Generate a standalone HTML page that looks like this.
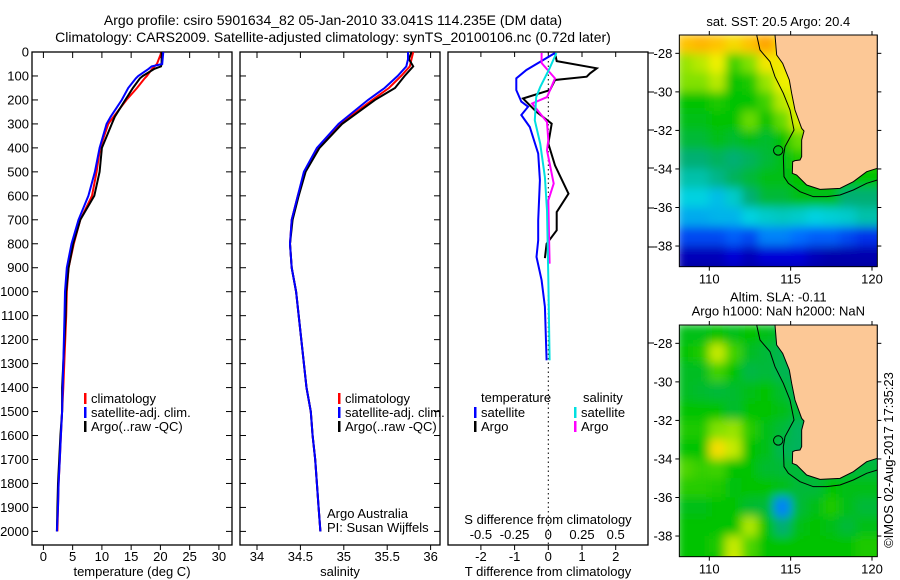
<!DOCTYPE html>
<html><head><meta charset="utf-8"><style>
html,body{margin:0;padding:0;background:#fff}
svg{display:block;font-family:"Liberation Sans",sans-serif}
</style></head><body>
<svg id="fig" width="900" height="580" viewBox="0 0 900 580" xmlns="http://www.w3.org/2000/svg">
<defs>
<filter id="blurf" x="0" y="0" width="1" height="1" filterUnits="objectBoundingBox"><feGaussianBlur stdDeviation="14" edgeMode="duplicate"/></filter>
</defs>
<text x="333" y="25" font-size="14" text-anchor="middle">Argo profile: csiro 5901634_82 05-Jan-2010 33.041S 114.235E (DM data)</text>
<text x="333" y="42" font-size="14" text-anchor="middle">Climatology: CARS2009. Satellite-adjusted climatology: synTS_20100106.nc (0.72d later)</text>
<g id="p1"></g>
<g id="p2"></g>
<g id="p3"></g>
<g id="m1"></g>
<g id="m2"></g>
<text transform="translate(893,460) rotate(-90)" font-size="13" text-anchor="middle">©IMOS 02-Aug-2017 17:35:23</text>
</svg>
<script>
// ---- profile data ----
const depthT = [0,50,60,70,100,110,150,200,270,300,400,500,600,700,800,900,1000,1100,1400,1500,1600,1700,1800,1900,2000];
const tempArgo = [20.2,20.2,20.1,19.0,17.0,16.5,15.3,14.0,12.2,11.7,10.0,9.6,8.7,6.3,5.1,4.3,3.9,3.8,3.2,3.2,2.9,2.7,2.5,2.4,2.3];
const tempClim = [20.2,19.4,19.0,18.6,17.7,17.3,16.0,14.2,12.0,11.1,9.7,9.1,8.3,6.3,5.2,4.3,4.0,3.9,3.4,3.2,3.0,2.8,2.6,2.5,2.4];
const tempSat  = [20.5,20.3,18.5,18.0,16.2,15.8,14.5,13.4,11.5,10.8,9.6,8.8,7.7,6.0,4.8,4.0,3.7,3.6,3.3,3.2,3.0,2.8,2.6,2.5,2.3];
const depthS = [0,30,60,100,150,200,300,400,500,600,700,800,900,1000,1400,1500,1600,1700,1800,1900,2000];
const salArgo = [35.78,35.75,35.80,35.70,35.59,35.36,34.98,34.72,34.56,34.48,34.41,34.38,34.40,34.45,34.57,34.62,34.64,34.67,34.69,34.71,34.73];
const salClim = [35.80,35.78,35.76,35.66,35.52,35.33,34.96,34.70,34.55,34.47,34.40,34.38,34.40,34.45,34.57,34.62,34.64,34.67,34.69,34.71,34.73];
const salSat  = [35.74,35.74,35.72,35.62,35.47,35.28,34.94,34.69,34.54,34.47,34.40,34.38,34.40,34.45,34.57,34.62,34.64,34.67,34.69,34.71,34.73];
const dArgoT = [4,38,68,89,103,117,159,194,250,299,382,473,591,668,744,800,860];
const vArgoT = [0.2,0.25,1.44,1.24,1.14,0.2,0.05,-0.75,-0.35,0.1,0,0.2,0.6,0.25,0.25,-0.05,-0.1];
const dSatT = [4,75,110,159,207,228,263,313,424,535,702,785,855,952,1063,1286];
const vSatT = [0.2,-0.65,-0.95,-0.95,-0.8,-0.6,-0.8,-0.55,-0.3,-0.25,-0.3,-0.3,-0.35,-0.2,-0.1,-0.05];
const dSatS = [4,68,146,188,285,382,522,661,939,1286];
const vSatS = [0.06,0.01,-0.06,-0.09,-0.1,-0.06,-0.025,-0.01,0,0.01];
const dArgoS = [4,46,110,188,215,292,368,410,549,619,883];
const vArgoS = [-0.05,-0.05,0.05,-0.01,-0.12,-0.01,0,-0.01,0.04,0,0.01];
const depthTicks = [0,100,200,300,400,500,600,700,800,900,1000,1100,1200,1300,1400,1500,1600,1700,1800,1900,2000];
const tempTicks = [0,5,10,15,20,25,30];
const salTicks = [34,34.5,35,35.5,36];
const salTickLabels = ["34","34.5","35","35.5","36"];
const tdTicks = [-2,-1,0,1,2];
const sdTicks = [-0.5,-0.25,0,0.25,0.5];
const sdTickLabels = ["-0.5","-0.25","0","0.25","0.5"];
// ---- map data (rows lat -27..-40, cols lon 108..120) ----
const mapLons = [108,109,110,111,112,113,114,115,116,117,118,119,120];
const mapLats = [-27,-28,-29,-30,-31,-32,-33,-34,-35,-36,-37,-38,-39];
const sstGrid = [
[.9,.92,.9,.85,.9,.95,.85,.8,.8,.8,.8,.8,.8],
[.72,.75,.8,.65,.7,.82,.82,.8,.8,.8,.8,.8,.8],
[.7,.7,.75,.6,.62,.72,.8,.8,.8,.8,.8,.8,.8],
[.6,.6,.62,.6,.6,.65,.75,.8,.8,.8,.8,.8,.8],
[.58,.58,.6,.6,.68,.6,.68,.78,.78,.78,.78,.78,.78],
[.55,.55,.58,.56,.58,.56,.6,.68,.68,.68,.68,.68,.68],
[.5,.5,.52,.5,.52,.55,.58,.62,.62,.62,.62,.62,.62],
[.45,.45,.48,.52,.55,.58,.58,.6,.6,.6,.6,.6,.6],
[.4,.4,.38,.42,.5,.55,.55,.58,.58,.58,.5,.5,.5],
[.36,.36,.37,.37,.4,.42,.43,.42,.4,.41,.42,.45,.45],
[.25,.25,.25,.28,.25,.32,.32,.3,.28,.28,.25,.22,.22],
[.1,.1,.1,.15,.1,.15,.15,.15,.1,.08,.08,.08,.08],
[.04,.04,.05,.08,.05,.06,.08,.08,.05,.04,.04,.04,.04]];
const slaGrid = [
[.58,.58,.6,.58,.6,.58,.55,.55,.55,.55,.55,.55,.55],
[.6,.62,.76,.65,.57,.55,.53,.52,.52,.52,.52,.52,.52],
[.57,.57,.65,.6,.54,.55,.53,.52,.52,.52,.52,.52,.52],
[.57,.56,.55,.56,.58,.6,.56,.52,.52,.52,.52,.52,.52],
[.6,.6,.6,.56,.6,.6,.58,.55,.55,.55,.55,.55,.55],
[.62,.62,.7,.72,.63,.58,.55,.52,.52,.52,.52,.52,.52],
[.6,.6,.84,.76,.6,.58,.53,.52,.52,.52,.52,.52,.52],
[.66,.64,.65,.6,.6,.56,.55,.55,.55,.55,.55,.55,.55],
[.63,.63,.62,.59,.6,.6,.58,.55,.55,.6,.58,.58,.58],
[.58,.58,.6,.6,.56,.55,.32,.55,.58,.62,.58,.55,.55],
[.6,.6,.6,.6,.74,.6,.5,.58,.6,.58,.55,.58,.58],
[.6,.6,.62,.76,.66,.6,.6,.6,.6,.6,.6,.62,.62],
[.6,.6,.6,.78,.65,.6,.6,.6,.6,.6,.6,.62,.62]];
const mapLonTicks = [110,115,120];
const mapLatTicks = [-28,-30,-32,-34,-36,-38];
const argoLon = 114.235, argoLat = -33.041;

const NS = "http://www.w3.org/2000/svg";
function mk(parent, tag, attrs, txt){const e=document.createElementNS(NS,tag);for(const k in attrs)e.setAttribute(k,attrs[k]);if(txt!==undefined)e.textContent=txt;parent.appendChild(e);return e;}
const yD = d => 52 + d*0.2397;
const TOP=52, BOT=545;

function panelFrame(g, x0, x1){
  const r = mk(g,'rect',{x:x0,y:TOP,width:x1-x0,height:BOT-TOP,fill:'none',stroke:'#000','stroke-width':1.3});
  
  
}
function profile(g, xs, ds, color, name, w){
  const pts = xs.map((v,i)=>v.toFixed(1)+','+yD(ds[i]).toFixed(1)).join(' ');
  const p = mk(g,'polyline',{points:pts,fill:'none',stroke:color,'stroke-width':w||2,'stroke-linejoin':'miter'});
  
  
}
function legend(g, x, y, color, label, name){
  const m = mk(g,'rect',{x:x,y:y-10,width:2.5,height:11,fill:color});
  
  
  const t = mk(g,'text',{x:x+7,y:y,'font-size':13},label);
  
  
}

// Panel 1: temperature
const p1 = document.getElementById('p1');
const xT = t => 43.4 + t*5.85;
panelFrame(p1,32,232);
depthTicks.forEach(d=>{
  const y=yD(d);
  mk(p1,'line',{x1:32,x2:38,y1:y,y2:y,stroke:'#000'});
  mk(p1,'line',{x1:226,x2:232,y1:y,y2:y,stroke:'#000'});
  const t=mk(p1,'text',{x:29,y:y+4.5,'font-size':13,'text-anchor':'end'},String(d));
  
  
});
tempTicks.forEach(v=>{
  const x=xT(v);
  mk(p1,'line',{x1:x,x2:x,y1:TOP,y2:TOP+6,stroke:'#000'});
  mk(p1,'line',{x1:x,x2:x,y1:BOT,y2:BOT+5,stroke:'#000'});
  const t=mk(p1,'text',{x:x,y:561,'font-size':13,'text-anchor':'middle'},String(v));
  
  
});
profile(p1, tempClim.map(xT), depthT, '#ff0000','temp-climatology-line');
profile(p1, tempArgo.map(xT), depthT, '#000000','temp-argo-line');
profile(p1, tempSat.map(xT), depthT, '#0000ff','temp-satellite-line');
legend(p1,84,403,'#ff0000','climatology','temp-legend-climatology');
legend(p1,84,417,'#0000ff','satellite-adj. clim.','temp-legend-satellite');
legend(p1,84,431,'#000000','Argo(..raw -QC)','temp-legend-argo');
{const t=mk(p1,'text',{x:132,y:576,'font-size':13,'text-anchor':'middle'},'temperature (deg C)');
}

// Panel 2: salinity
const p2 = document.getElementById('p2');
const xS = s => 257 + (s-34)*86.8;
panelFrame(p2,240,440);
depthTicks.forEach(d=>{const y=yD(d);
  mk(p2,'line',{x1:240,x2:246,y1:y,y2:y,stroke:'#000'});
  mk(p2,'line',{x1:434,x2:440,y1:y,y2:y,stroke:'#000'});});
salTicks.forEach((v,i)=>{const x=xS(v);
  mk(p2,'line',{x1:x,x2:x,y1:TOP,y2:TOP+6,stroke:'#000'});
  mk(p2,'line',{x1:x,x2:x,y1:BOT,y2:BOT+5,stroke:'#000'});
  const t=mk(p2,'text',{x:x,y:561,'font-size':13,'text-anchor':'middle'},salTickLabels[i]);
  });
profile(p2, salClim.map(xS), depthS, '#ff0000','sal-climatology-line');
profile(p2, salArgo.map(xS), depthS, '#000000','sal-argo-line');
profile(p2, salSat.map(xS), depthS, '#0000ff','sal-satellite-line');
legend(p2,338,403,'#ff0000','climatology','sal-legend-climatology');
legend(p2,338,417,'#0000ff','satellite-adj. clim.','sal-legend-satellite');
legend(p2,338,431,'#000000','Argo(..raw -QC)','sal-legend-argo');
{const a=mk(p2,'text',{x:327,y:518,'font-size':13},'Argo Australia');
const b=mk(p2,'text',{x:327,y:532,'font-size':13},'PI: Susan Wijffels');
const c=mk(p2,'text',{x:340,y:576,'font-size':13,'text-anchor':'middle'},'salinity');}

// Panel 3: differences
const p3 = document.getElementById('p3');
const xTD = v => 548.3 + v*33.7;
const xSD = v => 548.3 + v*134.8;
panelFrame(p3,448,648);
mk(p3,'line',{x1:548.3,x2:548.3,y1:TOP,y2:BOT,stroke:'#000','stroke-dasharray':'1.5,3'});
tdTicks.forEach(v=>{const x=xTD(v);
  mk(p3,'line',{x1:x,x2:x,y1:TOP,y2:TOP+5,stroke:'#000'});
  mk(p3,'line',{x1:x,x2:x,y1:BOT,y2:BOT+5,stroke:'#000'});
  const t=mk(p3,'text',{x:x,y:561,'font-size':13,'text-anchor':'middle'},String(v));
  });
sdTicks.forEach((v,i)=>{const x=xSD(v);
  const t=mk(p3,'text',{x:x,y:539,'font-size':13,'text-anchor':'middle'},sdTickLabels[i]);
  });
[53,92,130,168,208,247,343].forEach(y=>mk(p3,'line',{x1:648,x2:654,y1:y,y2:y,stroke:'#000'}));
profile(p3, vArgoT.map(xTD), dArgoT, '#000000','t-diff-argo-line');
profile(p3, vSatT.map(xTD), dSatT, '#0000ff','t-diff-satellite-line');
profile(p3, vArgoS.map(xSD), dArgoS, '#ff00ff','s-diff-argo-line');
profile(p3, vSatS.map(xSD), dSatS, '#00e0e0','s-diff-satellite-line');
{const a=mk(p3,'text',{x:481,y:402,'font-size':13},'temperature');
const b=mk(p3,'text',{x:583,y:402,'font-size':13},'salinity');}
legend(p3,474,417,'#0000ff','satellite','t-legend-satellite');
legend(p3,474,431,'#000000','Argo','t-legend-argo');
legend(p3,574,417,'#00e0e0','satellite','s-legend-satellite');
legend(p3,574,431,'#ff00ff','Argo','s-legend-argo');
{const a=mk(p3,'text',{x:548,y:524,'font-size':13,'text-anchor':'middle'},'S difference from climatology');
const b=mk(p3,'text',{x:548,y:576,'font-size':13,'text-anchor':'middle'},'T difference from climatology');}

// Maps
const stops=[[0,[0,0,128]],[0.15,[0,0,215]],[0.3,[0,110,255]],[0.4,[0,210,225]],[0.5,[0,175,115]],[0.6,[0,195,0]],[0.7,[130,225,0]],[0.8,[240,240,0]],[0.9,[255,195,0]],[1,[255,130,0]]];
function cmap(v){for(let i=1;i<stops.length;i++){if(v<=stops[i][0]){const a=stops[i-1],b=stops[i],f=(v-a[0])/(b[0]-a[0]);const c=a[1].map((x,k)=>Math.round(x+(b[1][k]-x)*f));return `rgb(${c[0]},${c[1]},${c[2]})`;}}return 'rgb(255,130,0)';}
const coast="345,105 350,165 368,190 378,215 388,240 395,280 405,330 425,385 432,393 425,420 425,470 420,480 405,482 398,485 397,520 410,525 440,555 480,568 540,565 580,545 620,515 652,505 652,105";
const contour="290,105 300,150 330,185 345,230 370,280 390,330 402,390 375,440 370,470 372,530 385,550 420,575 460,590 500,590 540,585 580,570 620,550 652,540";
function drawMap(id, grid, oy, titles){
  const g=document.getElementById(id);
  const s=mk(g,'svg',{x:660,y:oy,width:240,height:290,viewBox:'0 0 720 870',overflow:'visible'});
  const lx = lon => 3*(709.3-660) + (lon-110)*16.27*3;
  const ly = lat => 160 + (-28-lat)*19.27*3;
  const clip='clip'+id;
  const cp=mk(s,'clipPath',{id:clip});mk(cp,'rect',{x:58,y:105,width:594,height:695});
  const cg=mk(s,'g',{'clip-path':`url(#${clip})`});
  const bg=mk(cg,'g',{filter:'url(#blurf)'});
  grid.forEach((row,r)=>row.forEach((v,c)=>{
    const x=lx(mapLons[c]), y=ly(mapLats[r]);
    const cell=mk(bg,'rect',{x:x-0.5,y:y-0.5,width:16.27*3+1,height:19.27*3+1,fill:cmap(v)});
    
    
  }));
  const land=mk(cg,'polygon',{points:coast,fill:'#fcc896',stroke:'#000','stroke-width':3});
  
  
  const ct=mk(cg,'polyline',{points:contour,fill:'none',stroke:'#000','stroke-width':3});
  
  
  const circ=mk(cg,'circle',{cx:lx(argoLon),cy:ly(argoLat),r:14,fill:'none',stroke:'#000','stroke-width':3});
  
  
  mk(s,'rect',{x:58,y:105,width:594,height:695,fill:'none',stroke:'#000','stroke-width':3});
  mapLonTicks.forEach(v=>{const x=lx(v);
    mk(s,'line',{x1:x,x2:x,y1:93,y2:105,stroke:'#000','stroke-width':3});
    mk(s,'line',{x1:x,x2:x,y1:800,y2:812,stroke:'#000','stroke-width':3});
    const t=mk(s,'text',{x:x,y:850,'font-size':39,'text-anchor':'middle'},String(v));
    });
  mapLatTicks.forEach(v=>{const y=ly(v);
    mk(s,'line',{x1:46,x2:58,y1:y,y2:y,stroke:'#000','stroke-width':3});
    mk(s,'line',{x1:652,x2:664,y1:y,y2:y,stroke:'#000','stroke-width':3});
    const t=mk(s,'text',{x:37,y:y+14,'font-size':39,'text-anchor':'end'},String(v));
    });
  titles.forEach((tt,i)=>{const t=mk(s,'text',{x:355,y:titles.length==1?78:(34+i*42),'font-size':39,'text-anchor':'middle'},tt);
    });
}
drawMap('m1', sstGrid, 0, ['sat. SST: 20.5 Argo: 20.4']);
drawMap('m2', slaGrid, 290, ['Altim. SLA: -0.11','Argo h1000: NaN h2000: NaN']);
</script>
</body></html>
